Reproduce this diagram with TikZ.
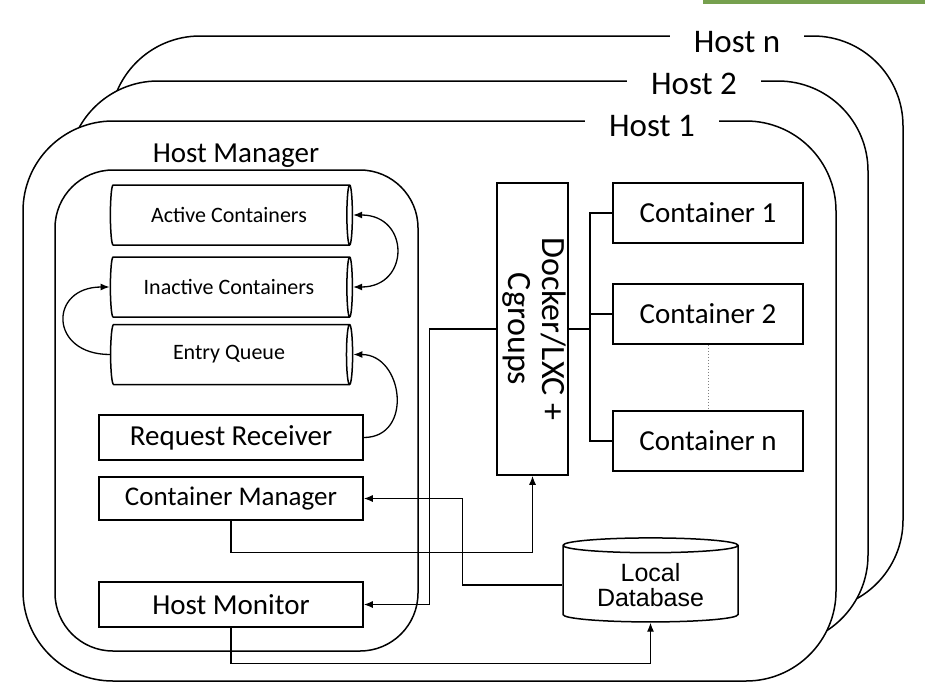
\documentclass[tikz,border=0pt]{standalone}
\usepackage{fontspec}
\setmainfont{Carlito}
\newfontfamily\arialfont{Liberation Sans}
\usetikzlibrary{shapes.geometric,arrows.meta}
\definecolor{bargreen}{RGB}{118,160,78}
\newcommand{\fsz}[1]{\fontsize{#1}{#1}\selectfont}

\tikzset{
  hostbox/.style={draw, line width=1.5pt, fill=white, rounded corners=90pt},
  hostlabel/.style={fill=white, inner xsep=24pt, inner ysep=1pt, font=\fsz{33}},
  box/.style={draw, line width=1.5pt, minimum width=264pt, inner sep=0pt},
  queue/.style={cylinder, draw, line width=1.5pt, minimum width=60pt, minimum height=242pt, aspect=0.25, font=\fsz{22}},
  ctr/.style={draw, line width=1.5pt, minimum width=190pt, minimum height=60pt, inner sep=0pt, font=\fsz{29}},
  link/.style={line width=1.3pt},
}

\begin{document}
\begin{tikzpicture}[x=1pt,y=-1pt,>={Latex[length=9pt,width=7pt]}]
  \useasboundingbox (0,0) rectangle (925,688);
  % Draw the strip at the top
  \fill[bargreen] (703,0) rectangle (925,4);

  % Draw the hosts, back to front
  \draw[hostbox] (110,36) rectangle (903,610);
  \node[hostlabel] (hostn) at (737,42) {Host n};
  \draw[hostbox] (68,81) rectangle (868,645);
  \node[hostlabel] (host2) at (694,84) {Host 2};
  \draw[hostbox] (23,121) rectangle (836,681);
  \node[hostlabel] (host1) at (652,126) {Host 1};

  % Draw the host manager
  \draw[line width=1.5pt, rounded corners=58pt] (55,170) rectangle (418,651);
  \node[font=\fsz{29}, anchor=base] (hmlabel) at (236,162) {Host Manager};

  % Queues
  \node[queue] (active) at (229,215) {Active Containers};
  \node[queue] (inactive) at (229,287) {Inactive Containers};
  \node[queue] (entry) at (229,354.5) {Entry Queue};

  % Manager parts
  \node[box, minimum height=45pt, font=\fsz{29}] (receiver) at (231,437.5) {Request Receiver};
  \node[box, minimum height=43pt, font=\fsz{27}] (cmanager) at (231,498.5) {Container Manager};
  \node[box, minimum height=45pt, font=\fsz{29}] (hmonitor) at (231,604.5) {Host Monitor};

  % Docker and the containers
  \node[draw, line width=1.5pt, minimum width=71pt, minimum height=292pt, inner sep=0pt, font=\fsz{34}] (docker) at (532.5,329)
    {\rotatebox{-90}{\begin{tabular}{@{}c@{}}Docker/LXC +\\Cgroups\end{tabular}}};
  \node[ctr] (c1) at (708,213) {Container 1};
  \node[ctr] (c2) at (708,314) {Container 2};
  \node[ctr] (cn) at (708,441) {Container n};

  % Local database
  \node[cylinder, shape border rotate=90, draw, line width=1.5pt, minimum width=175pt, minimum height=84pt, aspect=0.13,
        align=center, font=\arialfont\fsz{25}] (db) at (650.5,585) {Local\\Database};

  % Connect docker to the containers
  \coordinate (bus) at (590,329);
  \draw[link] (docker.east) -- (bus);
  \draw[link] (c1.west) -| (bus) |- (cn.west);
  \draw[link] (c2.west) -- (c2.west -| bus);
  \draw[dotted, gray, line width=1pt] (c2.south) -- (cn.north);

  % Queue arrows
  \draw[link, <->] (active.east) .. controls +(57,0) and +(57,0) .. (inactive.east);
  \draw[link, ->] (entry.west) .. controls +(-61,0) and +(-61,0) .. (inactive.west);
  \draw[link, ->] (receiver.east) .. controls +(50,0) and +(50,0) .. (entry.east);

  % Manager links
  \draw[link, ->] (docker.west) -- ++(-67,0) |- (hmonitor.east);
  \draw[link, ->] (cmanager.south) -- ++(0,32) -| (docker.south);
  \draw[link, ->] (db.west) -- ++(-100,0) |- (cmanager.east);
  \draw[link, ->] (hmonitor.south) -- ++(0,36) -| (db.south);
\end{tikzpicture}
\end{document}
